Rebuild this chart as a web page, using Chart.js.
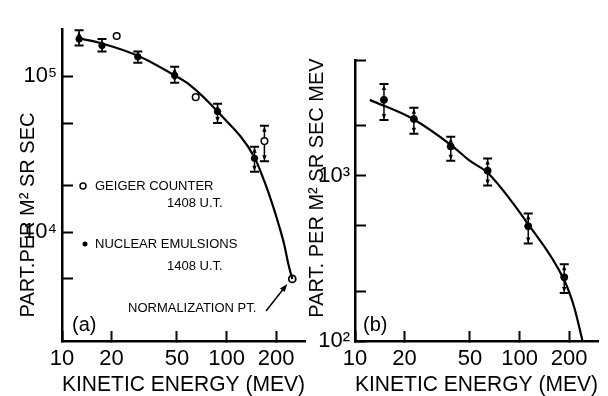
<!DOCTYPE html>
<html>
<head>
<meta charset="utf-8">
<script src="https://cdn.jsdelivr.net/npm/chart.js@4.4.0/dist/chart.umd.min.js"></script>
<style>
  html, body { margin: 0; padding: 0; background: #fff; }
  #wrap { position: relative; width: 608px; height: 396px; overflow: hidden; }
  canvas { position: absolute; left: 0; top: 0; }
</style>
</head>
<body>
<div id="wrap">
  <canvas id="chartA" width="608" height="396"></canvas>
  <canvas id="chartB" width="608" height="396"></canvas>
</div>
<script>
// panel (a) - integral spectrum
const emulsionEnergyA = [12.7, 17.5, 28.9, 48.4, 88.2, 148];
const emulsionFluxA = [173000, 157000, 133000, 101000, 59300, 29700];
const emulsionLowA = [157000, 144000, 122000, 90600, 50000, 24400];
const emulsionHighA = [197000, 173000, 144000, 115000, 66400, 35200];

const geigerEnergyA = [21.5, 65, 170];
const geigerFluxA = [181000, 73300, 38300];
const geigerLowA = [null, null, 28400];
const geigerHighA = [null, null, 48000];

const normEnergy = [251];
const normFlux = [5000];

const curveEnergyA = [12.3, 17.5, 28.9, 48.4, 59.7, 88.2, 148, 170, 190, 209, 225, 238, 251];
const curveFluxA = [176000, 162000, 135000, 101000, 88000, 59300, 30100, 21100, 15100, 10900, 8200, 6180, 5000];

// panel (b) - differential spectrum
const emulsionEnergyB = [15.0, 22.8, 38.2, 64, 113, 187];
const emulsionFluxB = [2870, 2200, 1500, 1070, 494, 243];
const emulsionLowB = [2170, 1790, 1230, 870, 389, 195];
const emulsionHighB = [3580, 2570, 1720, 1270, 590, 291];

const curveEnergyB = [12.3, 22.5, 38.7, 49.8, 64.0, 112, 187, 215, 241];
const curveFluxB = [2870, 2200, 1520, 1230, 1040, 514, 233, 160, 101];

// axis ticks
const energyTicks = [10, 20, 50, 100, 200];
const fluxTicksA = [5000, 10000, 20000, 50000, 100000];
const fluxTicksB = [100, 200, 500, 1000, 2000, 5000];
const fluxLabelsA = { 10000: '10⁴', 100000: '10⁵' };
const fluxLabelsB = { 100: '10²', 1000: '10³' };

const FONT = '"Liberation Sans", Arial, sans-serif';

function toXY(xs, ys) {
  return xs.map((x, i) => ({ x: x, y: ys[i] }));
}

function energyAxis() {
  return {
    type: 'logarithmic',
    min: 10,
    max: 300,
    afterBuildTicks: axis => { axis.ticks = energyTicks.map(v => ({ value: v })); },
    afterFit: axis => { axis.height = 55; },
    border: { color: '#000', width: 2.5 },
    grid: { drawOnChartArea: false, tickLength: -10, tickColor: '#000', tickWidth: 2 },
    ticks: {
      autoSkip: false, maxRotation: 0, minRotation: 0, padding: 15,
      color: '#000', font: { family: FONT, size: 22 },
      callback: v => String(v)
    },
    title: {
      display: true, text: 'KINETIC ENERGY (MEV)', color: '#000', padding: 0,
      font: { family: FONT, size: 22, lineHeight: 1 }
    }
  };
}

function fluxAxis(min, max, tickVals, labels, width) {
  return {
    type: 'logarithmic',
    min: min,
    max: max,
    afterBuildTicks: axis => { axis.ticks = tickVals.map(v => ({ value: v })); },
    afterFit: axis => { axis.width = width; },
    border: { color: '#000', width: 2.5 },
    grid: { drawOnChartArea: false, tickLength: -11, tickColor: '#000', tickWidth: 2 },
    ticks: {
      autoSkip: false, padding: 16,
      color: '#000', font: { family: FONT, size: 22 },
      callback: v => labels[v] || ''
    }
  };
}

function drawErrorBars(chart, xs, lo, hi) {
  const { ctx, scales: { x, y } } = chart;
  ctx.save();
  ctx.strokeStyle = '#000';
  ctx.fillStyle = '#000';
  xs.forEach((e, i) => {
    if (lo[i] == null) return;
    const px = x.getPixelForValue(e);
    const top = y.getPixelForValue(hi[i]);
    const bot = y.getPixelForValue(lo[i]);
    ctx.lineWidth = 1.5;
    ctx.beginPath();
    ctx.moveTo(px, top);
    ctx.lineTo(px, bot);
    ctx.stroke();
    ctx.lineWidth = 2;
    ctx.beginPath();
    ctx.moveTo(px - 4.5, top); ctx.lineTo(px + 4.5, top);
    ctx.moveTo(px - 4.5, bot); ctx.lineTo(px + 4.5, bot);
    ctx.stroke();
    // little arrow heads pointing at the caps
    ctx.beginPath();
    ctx.moveTo(px, top + 1); ctx.lineTo(px - 2.2, top + 6); ctx.lineTo(px + 2.2, top + 6);
    ctx.closePath();
    ctx.moveTo(px, bot - 1); ctx.lineTo(px - 2.2, bot - 6); ctx.lineTo(px + 2.2, bot - 6);
    ctx.closePath();
    ctx.fill();
  });
  ctx.restore();
}

function drawYTitle(ctx, text, cx, cy) {
  ctx.save();
  ctx.translate(cx, cy);
  ctx.rotate(-Math.PI / 2);
  ctx.fillStyle = '#000';
  ctx.font = '20px ' + FONT;
  ctx.textAlign = 'center';
  ctx.textBaseline = 'middle';
  ctx.fillText(text, 0, 0);
  ctx.restore();
}

const panelA = {
  id: 'panelA',
  beforeDatasetsDraw(chart) {
    drawErrorBars(chart, emulsionEnergyA, emulsionLowA, emulsionHighA);
    drawErrorBars(chart, geigerEnergyA, geigerLowA, geigerHighA);
  },
  afterDraw(chart) {
    const { ctx, scales: { x, y } } = chart;
    drawYTitle(ctx, 'PART.PER M² SR SEC', 28, 215);
    ctx.save();
    ctx.fillStyle = '#000';
    ctx.strokeStyle = '#000';
    ctx.textAlign = 'left';
    ctx.textBaseline = 'middle';
    ctx.font = '20px ' + FONT;
    ctx.fillText('(a)', 72, 325);

    // legend
    ctx.lineWidth = 1.5;
    ctx.beginPath();
    ctx.arc(83, 186, 3, 0, Math.PI * 2);
    ctx.stroke();
    ctx.beginPath();
    ctx.arc(85, 244, 2.5, 0, Math.PI * 2);
    ctx.fill();
    ctx.font = '13px ' + FONT;
    ctx.fillText('GEIGER COUNTER', 95, 186);
    ctx.fillText('1408 U.T.', 167, 203);
    ctx.fillText('NUCLEAR EMULSIONS', 95, 244);
    ctx.fillText('1408 U.T.', 167, 266);
    ctx.fillText('NORMALIZATION PT.', 128, 308);

    // arrow to the normalization point
    const hx = x.getPixelForValue(normEnergy[0]) - 5;
    const hy = y.getPixelForValue(normFlux[0]) + 5;
    const tx = 266, ty = 311;
    const ang = Math.atan2(hy - ty, hx - tx);
    ctx.lineWidth = 1.5;
    ctx.beginPath();
    ctx.moveTo(tx, ty);
    ctx.lineTo(hx - 6 * Math.cos(ang), hy - 6 * Math.sin(ang));
    ctx.stroke();
    ctx.beginPath();
    ctx.moveTo(hx, hy);
    ctx.lineTo(hx - 8 * Math.cos(ang) + 3 * Math.sin(ang), hy - 8 * Math.sin(ang) - 3 * Math.cos(ang));
    ctx.lineTo(hx - 8 * Math.cos(ang) - 3 * Math.sin(ang), hy - 8 * Math.sin(ang) + 3 * Math.cos(ang));
    ctx.closePath();
    ctx.fill();
    ctx.restore();
  }
};

const panelB = {
  id: 'panelB',
  beforeDatasetsDraw(chart) {
    drawErrorBars(chart, emulsionEnergyB, emulsionLowB, emulsionHighB);
  },
  afterDraw(chart) {
    const { ctx } = chart;
    drawYTitle(ctx, 'PART. PER M² SR SEC MEV', 317, 188);
    ctx.save();
    ctx.fillStyle = '#000';
    ctx.textAlign = 'left';
    ctx.textBaseline = 'middle';
    ctx.font = '20px ' + FONT;
    ctx.fillText('(b)', 363, 325);
    ctx.restore();
  }
};

const commonOpts = {
  responsive: false,
  animation: false,
  plugins: { legend: { display: false }, tooltip: { enabled: false } }
};

new Chart(document.getElementById('chartA'), {
  type: 'line',
  data: {
    datasets: [
      {
        data: toXY(curveEnergyA, curveFluxA),
        borderColor: '#000', borderWidth: 2.2, pointRadius: 0,
        cubicInterpolationMode: 'monotone', fill: false
      },
      {
        data: toXY(emulsionEnergyA, emulsionFluxA),
        showLine: false, pointRadius: 3.2, pointBackgroundColor: '#000', pointBorderColor: '#000'
      },
      {
        data: toXY(geigerEnergyA, geigerFluxA),
        showLine: false, pointRadius: 3.3, pointBorderWidth: 1.5,
        pointBackgroundColor: '#fff', pointBorderColor: '#000'
      },
      {
        data: toXY(normEnergy, normFlux),
        showLine: false, pointRadius: 3.5, pointBorderWidth: 1.8,
        pointBackgroundColor: '#fff', pointBorderColor: '#000'
      }
    ]
  },
  options: Object.assign({}, commonOpts, {
    layout: { padding: { left: 0, top: 14, right: 303, bottom: 0 } },
    scales: {
      x: energyAxis(),
      y: fluxAxis(2000, 200000, fluxTicksA, fluxLabelsA, 62)
    }
  }),
  plugins: [panelA]
});

new Chart(document.getElementById('chartB'), {
  type: 'line',
  data: {
    datasets: [
      {
        data: toXY(curveEnergyB, curveFluxB),
        borderColor: '#000', borderWidth: 2.2, pointRadius: 0,
        cubicInterpolationMode: 'monotone', fill: false
      },
      {
        data: toXY(emulsionEnergyB, emulsionFluxB),
        showLine: false, pointRadius: 3.5, pointBackgroundColor: '#000', pointBorderColor: '#000'
      }
    ]
  },
  options: Object.assign({}, commonOpts, {
    layout: { padding: { left: 295, top: 60, right: 10, bottom: 0 } },
    scales: {
      x: energyAxis(),
      y: fluxAxis(100, 5000, fluxTicksB, fluxLabelsB, 60)
    }
  }),
  plugins: [panelB]
});
</script>
</body>
</html>
